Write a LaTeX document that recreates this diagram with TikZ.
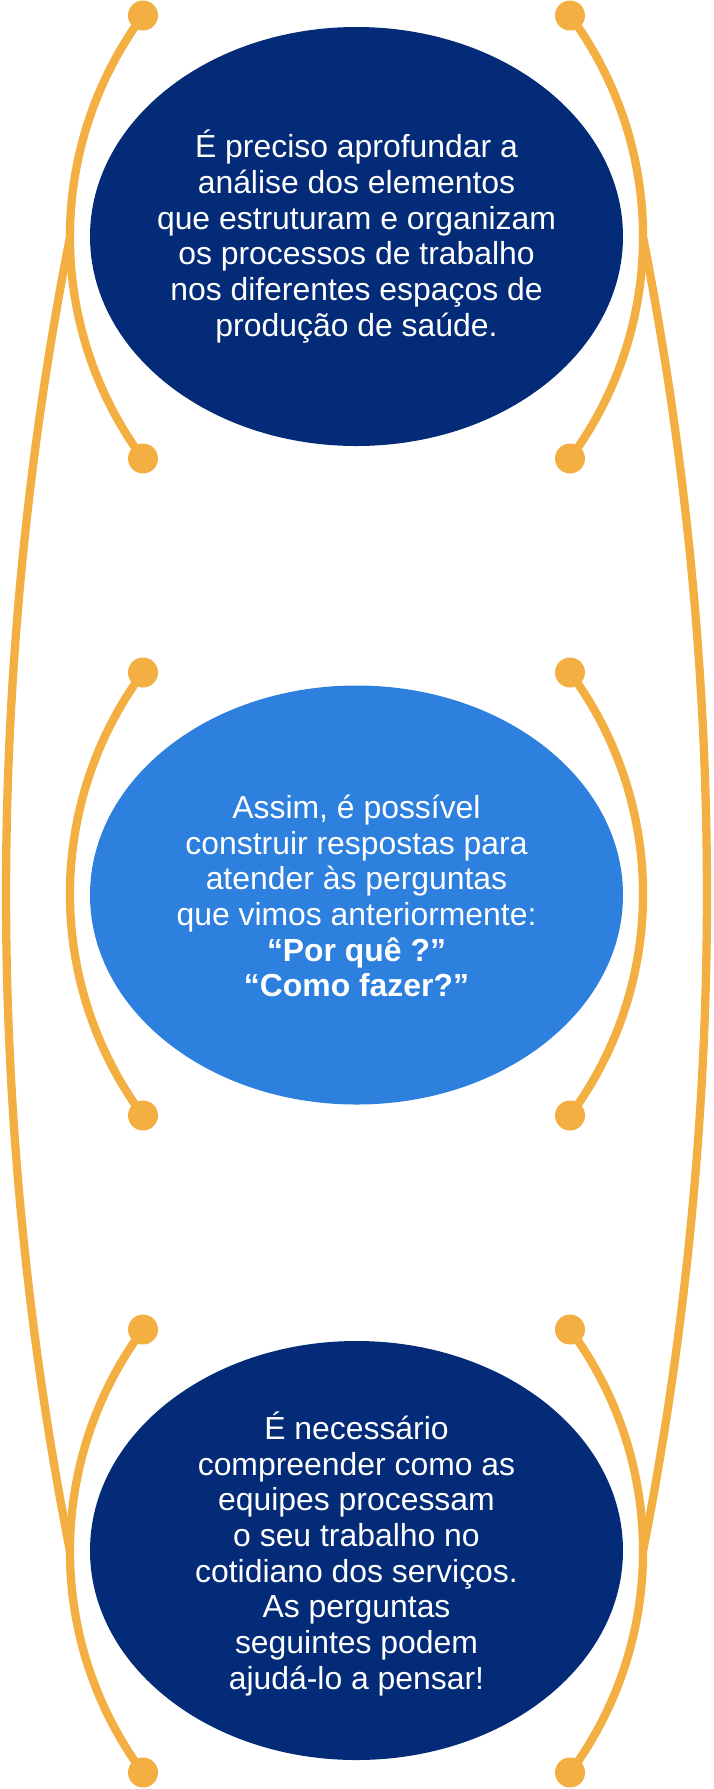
\documentclass[tikz,border=0pt]{standalone}
\usepackage{fontspec}
\setmainfont{Liberation Sans}
\usetikzlibrary{shapes.geometric}
\definecolor{navy}{RGB}{3,43,119}
\definecolor{skyb}{RGB}{45,128,222}
\definecolor{gold}{RGB}{244,175,66}
\tikzset{
  bubble/.style={ellipse, minimum width=533pt, minimum height=419pt, inner sep=0pt, draw=none},
  dotnode/.style={circle, fill=gold, minimum size=30pt, inner sep=0pt},
  arcline/.style={draw=gold, line width=8.3pt},
  bubtext/.style={text=white, align=center, inner sep=0pt,
    font=\fontsize{31.9}{35.7}\selectfont}
}
\begin{document}
\begin{tikzpicture}[x=1pt,y=1pt]
\useasboundingbox (0,0) rectangle (714,-1789);
% dot coordinates
\coordinate (a1) at (143,-15.5);   \coordinate (b1) at (143,-458.5);
\coordinate (c1) at (570,-15.5);   \coordinate (e1r) at (570,-458.5);
\coordinate (a2) at (143,-672.5);  \coordinate (b2) at (143,-1115.5);
\coordinate (c2) at (570,-672.5);  \coordinate (e2r) at (570,-1115.5);
\coordinate (a3) at (143,-1329.5); \coordinate (b3) at (143,-1772.5);
\coordinate (c3) at (570,-1329.5); \coordinate (e3r) at (570,-1772.5);
\coordinate (jL) at (70,-237);
\coordinate (jR) at (643,-237);
% outer long curves
\draw[arcline] (jL) arc[start angle=168.87, end angle=191.13, radius=3404];
\draw[arcline] (jR) arc[start angle=11.13, end angle=-11.13, radius=3404];
% inner arcs
\foreach \p in {a1,a2,a3}
  \draw[arcline] (\p) arc[start angle=143.5, end angle=216.5, radius=372.5];
\foreach \p in {c1,c2,c3}
  \draw[arcline] (\p) arc[start angle=36.5, end angle=-36.5, radius=372.5];
% dots
\foreach \p in {a1,b1,c1,e1r,a2,b2,c2,e2r,a3,b3,c3,e3r}
  \node[dotnode] (dot-\p) at (\p) {};
% ellipses
\node[bubble, fill=navy] (E1) at (356.5,-236.5) {};
\node[bubble, fill=skyb] (E2) at (356.5,-895) {};
\node[bubble, fill=navy] (E3) at (356.5,-1550.5) {};
% texts
\node[bubtext] (T1) at (356.5,-236.5) {É preciso aprofundar a\\análise dos elementos\\que estruturam e organizam\\os processos de trabalho\\nos diferentes espaços de\\produção de saúde.};
\node[bubtext] (T2) at (356.5,-896) {Assim, é possível\\construir respostas para\\atender às perguntas\\que vimos anteriormente:\\\textbf{“Por quê ?”}\\\textbf{“Como fazer?”}};
\node[bubtext] (T3) at (356.5,-1553.8) {É necessário\\compreender como as\\equipes processam\\o seu trabalho no\\cotidiano dos serviços.\\As perguntas\\seguintes podem\\ajudá-lo a pensar!};
\end{tikzpicture}
\end{document}
